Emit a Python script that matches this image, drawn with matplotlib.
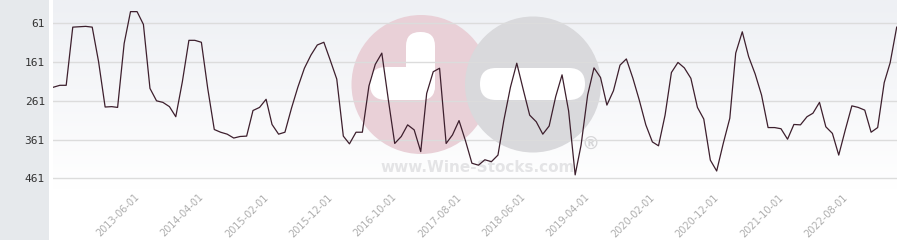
import pandas as pd
import matplotlib.pyplot as plt
import matplotlib.transforms as mtransforms
from matplotlib.patches import Circle, FancyBboxPatch, Rectangle
import numpy as np

# ==============================
# data (monthly ranking, lower = better)
# ==============================
start_month = "2012-05-01"
ranks = [226, 221, 221, 71, 70, 69, 71, 160, 277, 276, 278, 113, 31, 31, 64, 229,
         261, 265, 276, 302, 212, 105, 105, 110, 229, 335, 342, 347, 357, 353, 352,
         286, 278, 257, 322, 347, 342, 280, 226, 177, 143, 117, 110, 156, 205, 352,
         372, 342, 342, 223, 167, 138, 259, 371, 353, 323, 336, 392, 242, 186, 177,
         371, 349, 312, 365, 422, 427, 413, 418, 401, 311, 226, 164, 233, 298, 315,
         347, 326, 250, 194, 287, 452, 375, 246, 176, 201, 272, 235, 169, 153, 203,
         259, 323, 367, 377, 298, 188, 162, 176, 203, 278, 308, 414, 442, 371, 306,
         138, 83, 147, 192, 246, 330, 330, 333, 360, 322, 323, 302, 293, 265, 328,
         345, 401, 336, 274, 278, 285, 342, 330, 214, 163, 71]
dates = pd.date_range(start_month, periods=len(ranks), freq="MS")

y_ticks = [61, 161, 261, 361, 461]
x_tick_labels = ["2013-06-01", "2014-04-01", "2015-02-01", "2015-12-01",
                 "2016-10-01", "2017-08-01", "2018-06-01", "2019-04-01",
                 "2020-02-01", "2020-12-01", "2021-10-01", "2022-08-01"]

# ==============================
# figure
# ==============================
W, H = 904, 240
fig = plt.figure(figsize=(W / 100, H / 100), dpi=100)
fig.patch.set_facecolor("white")

# grey panel on the left
fig.add_artist(Rectangle((0, 0), 49 / W, 1, transform=fig.transFigure,
                         facecolor="#e6e9ec", edgecolor="none", zorder=0))

ax = fig.add_axes([53.3 / W, 50 / H, 843.4 / W, 190 / H])
for s in ax.spines.values():
    s.set_visible(False)

# soft gradient background
grad = np.linspace(0, 1, 100).reshape(-1, 1)
top = np.array([0xee, 0xf0, 0xf4]) / 255
bot = np.array([1.0, 1.0, 1.0])
img = top[None, None, :] * (1 - grad[:, :, None]) + bot[None, None, :] * grad[:, :, None]
ax.imshow(img, extent=[0, 1, 0, 1], transform=ax.transAxes, aspect="auto",
          zorder=0.1, interpolation="bilinear")

# watermark (pixel coords, y from top)
px = mtransforms.Affine2D().scale(1 / W, -1 / H).translate(0, 1) + fig.transFigure
ax.add_patch(Circle((421, 84.5), 69.5, transform=px, facecolor="#e9d0d7",
                    edgecolor="none", zorder=0.2))
ax.add_patch(Circle((533, 84.5), 68, transform=px, facecolor="#d9d9dc",
                    edgecolor="none", zorder=0.25))
ax.add_patch(FancyBboxPatch((406, 32), 29, 68, boxstyle="round,pad=0,rounding_size=14",
                            transform=px, facecolor="white", edgecolor="none", zorder=0.3))
ax.add_patch(FancyBboxPatch((370, 67), 65, 33, boxstyle="round,pad=0,rounding_size=16",
                            transform=px, facecolor="white", edgecolor="none", zorder=0.3))
ax.add_patch(FancyBboxPatch((480, 68), 105, 32, boxstyle="round,pad=0,rounding_size=16",
                            transform=px, facecolor="white", edgecolor="none", zorder=0.3))
ax.text(478, 167, "www.Wine-Stocks.com", transform=px, ha="center", va="center",
        fontsize=11, fontweight="bold", color="#e4e4e6", zorder=0.35)
ax.text(591, 145, "®", transform=px, ha="center", va="center",
        fontsize=13, fontweight="bold", color="#d6d6d8", zorder=0.35)

# ==============================
# line
# ==============================
ax.plot(dates, ranks, color="#3d1f2d", linewidth=0.9, zorder=3)

ax.set_xlim(dates[0], dates[-1])
ax.set_ylim(491, 1)

ax.set_yticks(y_ticks)
ax.set_yticklabels([str(v) for v in y_ticks], family="DejaVu Sans Mono",
                   fontsize=8, color="#333333")
ax.tick_params(axis="y", length=0, pad=6)
ax.grid(axis="y", color="#dcdcdc", linewidth=1, zorder=0.5)
ax.set_axisbelow(True)

tick_dates = pd.to_datetime(x_tick_labels)
ax.set_xticks(tick_dates)
ax.set_xticklabels(x_tick_labels, rotation=45, ha="right", va="top",
                   rotation_mode="anchor", fontsize=7, color="#adadad")
ax.tick_params(axis="x", length=0, pad=1.5)
shift = mtransforms.ScaledTranslation(-3 / 100, 0, fig.dpi_scale_trans)
for lab in ax.get_xticklabels():
    lab.set_transform(lab.get_transform() + shift)

fig.savefig("out.png", dpi=100)
